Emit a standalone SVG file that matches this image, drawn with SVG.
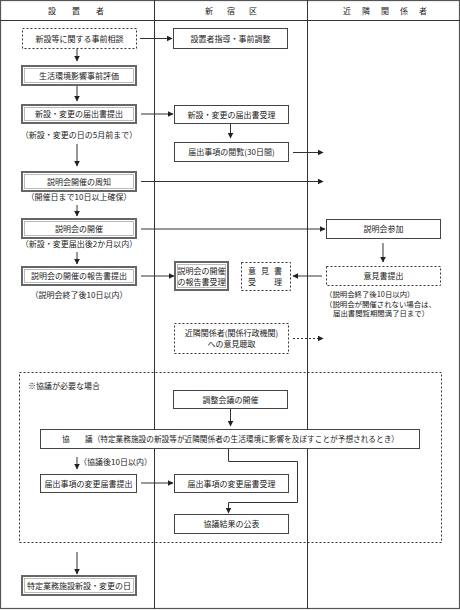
<svg xmlns="http://www.w3.org/2000/svg" width="460" height="610" viewBox="0 0 460 610">
<defs>
<style>
text{font-family:"Noto Sans CJK JP","Noto Sans CJK SC",sans-serif;font-size:8px;fill:#222}
.c{text-anchor:middle}
.sm{font-size:7.4px}
.box{fill:#fff;stroke:#444;stroke-width:1}
.dbl{fill:#fff;stroke:#666;stroke-width:2}
.dbi{fill:none;stroke:#aaa;stroke-width:0.8}
.dash{fill:#fff;stroke:#333;stroke-width:1;stroke-dasharray:2,2}
.ln{fill:none;stroke:#333;stroke-width:1}
.dl{fill:none;stroke:#333;stroke-width:1;stroke-dasharray:2,2}
.frame{fill:none;stroke:#555;stroke-width:1.2}
</style>
<marker id="ah" viewBox="0 0 10 10" refX="9" refY="5" markerWidth="6" markerHeight="6" markerUnits="userSpaceOnUse" orient="auto">
<path d="M0,0 L10,5 L0,10 z" fill="#222"/>
</marker>
</defs>
<rect width="460" height="610" fill="#fff"/>
<g id="frame">
<rect class="frame" x="0.5" y="0.5" width="459" height="608"/>
<line class="ln" x1="0" y1="20.5" x2="460" y2="20.5"/>
<line class="ln" x1="154.5" y1="0" x2="154.5" y2="609"/>
<line class="ln" x1="307.5" y1="0" x2="307.5" y2="609"/>
<text x="48 72 96" y="14">設置者</text>
<text x="205 227 249" y="14">新宿区</text>
<text x="343 362 381 400 419" y="14">近隣関係者</text>
</g>
<g id="region-kyogi">
<rect class="dash" x="19.5" y="372.5" width="422" height="170" style="fill:none"/>
<text x="28" y="389">※協議が必要な場合</text>
</g>
<g id="connectors">
<line class="ln" x1="140" y1="38.5" x2="172" y2="38.5" marker-end="url(#ah)"/>
<line class="ln" x1="77" y1="49" x2="77" y2="61" marker-end="url(#ah)"/>
<line class="ln" x1="77" y1="86" x2="77" y2="101" marker-end="url(#ah)"/>
<line class="ln" x1="141" y1="114" x2="173" y2="114" marker-end="url(#ah)"/>
<line class="ln" x1="230.5" y1="124" x2="230.5" y2="138" marker-end="url(#ah)"/>
<line class="ln" x1="293" y1="152.5" x2="323" y2="152.5" marker-end="url(#ah)"/>
<line class="ln" x1="77" y1="144" x2="77" y2="166" marker-end="url(#ah)"/>
<line class="ln" x1="141" y1="181.5" x2="323" y2="181.5" marker-end="url(#ah)"/>
<line class="ln" x1="77" y1="205" x2="77" y2="216" marker-end="url(#ah)"/>
<line class="ln" x1="141" y1="229" x2="325" y2="229" marker-end="url(#ah)"/>
<line class="ln" x1="77" y1="252" x2="77" y2="264" marker-end="url(#ah)"/>
<line class="ln" x1="141" y1="276" x2="174" y2="276" marker-end="url(#ah)"/>
<line class="ln" x1="322" y1="276" x2="293" y2="276" marker-end="url(#ah)"/>
<line class="ln" x1="383" y1="243" x2="383" y2="262" marker-end="url(#ah)"/>
<line class="dl" x1="293" y1="338.5" x2="323" y2="338.5" marker-end="url(#ah)"/>
<line class="ln" x1="230.5" y1="409" x2="230.5" y2="426" marker-end="url(#ah)"/>
<line class="ln" x1="77" y1="457" x2="77" y2="469" marker-end="url(#ah)"/>
<line class="ln" x1="141" y1="483" x2="173" y2="483" marker-end="url(#ah)"/>
<path class="ln" d="M228.5,448 V461.5 H297.5 V502.5 H228.5 V513" marker-end="url(#ah)"/>
<line class="ln" x1="77" y1="552" x2="77" y2="574" marker-end="url(#ah)"/>
</g>
<g id="n-sodan"><rect class="dash" x="22.5" y="28.5" width="114" height="20"/><text class="c" x="79.5" y="41.5">新設等に関する事前相談</text></g>
<g id="n-shido"><rect class="box" x="173.5" y="28.5" width="114" height="20"/><text class="c" x="230.5" y="41.5">設置者指導・事前調整</text></g>
<g id="n-hyoka"><rect class="dbl" x="22" y="66" width="114" height="19"/><rect class="dbi" x="24.5" y="68.5" width="109" height="14"/><text class="c" x="79" y="78.5">生活環境影響事前評価</text></g>
<g id="n-teishutsu"><rect class="dbl" x="22" y="105" width="114" height="18"/><rect class="dbi" x="24.5" y="107.5" width="109" height="13"/><text class="c" x="79" y="117">新設・変更の届出書提出</text></g>
<text class="c" x="79" y="138">（新設・変更の日の5月前まで）</text>
<g id="n-juri"><rect class="box" x="174.5" y="105.5" width="114" height="18"/><text class="c" x="231.5" y="117.5">新設・変更の届出書受理</text></g>
<g id="n-etsuran"><rect class="box" x="174.5" y="142.5" width="114" height="19"/><text class="c" x="231.5" y="155">届出事項の閲覧(30日間)</text></g>
<g id="n-shuchi"><rect class="dbl" x="22" y="172" width="114" height="19"/><rect class="dbi" x="24.5" y="174.5" width="109" height="14"/><text class="c" x="79" y="184.5">説明会開催の周知</text></g>
<text class="c" x="79" y="200">（開催日まで10日以上確保）</text>
<g id="n-kaisai"><rect class="dbl" x="22" y="219" width="114" height="19"/><rect class="dbi" x="24.5" y="221.5" width="109" height="14"/><text class="c" x="79" y="231.5">説明会の開催</text></g>
<text class="c" x="79" y="247">（新設・変更届出後2か月以内）</text>
<g id="n-sanka"><rect class="box" x="326.5" y="219.5" width="114" height="19"/><text class="c" x="383.5" y="232">説明会参加</text></g>
<g id="n-hokoku"><rect class="dbl" x="22" y="267" width="114" height="18"/><rect class="dbi" x="24.5" y="269.5" width="109" height="13"/><text class="c" x="79" y="279">説明会の開催の報告書提出</text></g>
<text class="c" x="79" y="298">（説明会終了後10日以内）</text>
<g id="n-hokokujuri"><rect class="dbl" x="175" y="262" width="53" height="28"/><rect class="dbi" x="177.5" y="264.5" width="48" height="23"/><text class="c" x="201.5" y="274">説明会の開催</text><text class="c" x="201.5" y="284.5">の報告書受理</text></g>
<g id="n-ikenjuri"><rect class="dash" x="241.5" y="262.5" width="49" height="28"/><text x="248 261 274" y="274">意見書</text><text x="248 274" y="284.5">受理</text></g>
<g id="n-ikenteishutsu"><rect class="dash" x="326.5" y="266.5" width="114" height="19"/><text class="c" x="383.5" y="279">意見書提出</text></g>
<text class="sm" x="325" y="297">（説明会終了後10日以内）</text>
<text class="sm" x="325" y="306.5">（説明会が開催されない場合は、</text>
<text class="sm" x="333" y="316">届出書閲覧期間満了日まで）</text>
<g id="n-choshu"><rect class="dash" x="174.5" y="323.5" width="114" height="30"/><text class="c" x="231.5" y="336">近隣関係者(関係行政機関)</text><text class="c" x="231.5" y="346.5">への意見聴取</text></g>
<g id="n-chosei"><rect class="box" x="173.5" y="390.5" width="114" height="18"/><text class="c" x="230.5" y="402.5">調整会議の開催</text></g>
<g id="n-kyogi"><rect class="box" x="40.5" y="429.5" width="379" height="19"/><text x="62" y="442" textLength="337" lengthAdjust="spacingAndGlyphs">協　　議（特定業務施設の新設等が近隣関係者の生活環境に影響を及ぼすことが予想されるとき）</text></g>
<text x="79" y="464.5">（協議後10日以内）</text>
<g id="n-henkoteishutsu"><rect class="box" x="40.5" y="474.5" width="96" height="18"/><text class="c" x="88.5" y="486.5">届出事項の変更届書提出</text></g>
<g id="n-henkojuri"><rect class="box" x="174.5" y="474.5" width="114" height="18"/><text class="c" x="231.5" y="486.5">届出事項の変更届書受理</text></g>
<g id="n-kohyo"><rect class="box" x="174.5" y="514.5" width="114" height="19"/><text class="c" x="231.5" y="527">協議結果の公表</text></g>
<g id="n-hi"><rect class="dbl" x="22" y="576" width="114" height="19"/><rect class="dbi" x="24.5" y="578.5" width="109" height="14"/><text class="c" x="79" y="588.5">特定業務施設新設・変更の日</text></g>
</svg>
